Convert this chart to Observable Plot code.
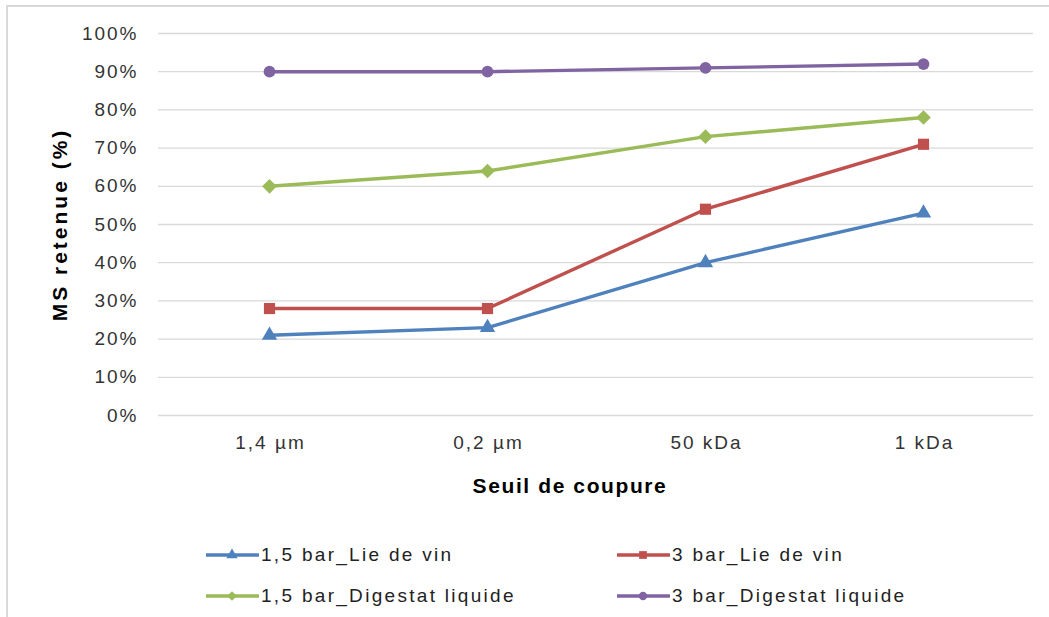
<!DOCTYPE html>
<html>
<head>
<meta charset="utf-8">
<script src="https://cdn.jsdelivr.net/npm/d3@7"></script>
<script src="https://cdn.jsdelivr.net/npm/@observablehq/plot@0.6"></script>
<style>
  html, body { margin: 0; padding: 0; background: #fff; }
  body { width: 1049px; height: 617px; position: relative; overflow: hidden; font-family: "Liberation Sans", Arial, sans-serif; }
  #frame { position: absolute; left: 6px; top: 5px; width: 1060px; height: 640px; border: 2px solid #d9d9d9; box-sizing: border-box; }
  #chart { position: absolute; left: 0; top: 0; }
  #xlabel { position: absolute; left: 0; width: 1140px; top: 474px; text-align: center; font-weight: bold; font-size: 21px; letter-spacing: 1.6px; color: #000; }
  .leg { position: absolute; display: flex; align-items: center; font-size: 19px; letter-spacing: 2.3px; color: #222; white-space: nowrap; }
  .leg svg { display: block; margin-right: 2px; }
  #chart svg text { letter-spacing: 2px; }
</style>
</head>
<body>
<div id="frame"></div>
<div id="chart"></div>
<div id="xlabel">Seuil de coupure</div>
<div id="legend"></div>
<script>
// ---- data ----
const categories = ["1,4 µm", "0,2 µm", "50 kDa", "1 kDa"];
const seriesNames = ["1,5 bar_Lie de vin", "3 bar_Lie de vin", "1,5 bar_Digestat liquide", "3 bar_Digestat liquide"];
const lieVin15 = [21, 23, 40, 53];
const lieVin3 = [28, 28, 54, 71];
const digestat15 = [60, 64, 73, 78];
const digestat3 = [90, 90, 91, 92];
const yTicks = [0, 10, 20, 30, 40, 50, 60, 70, 80, 90, 100];
const colors = ["#4F81BD", "#C0504D", "#9BBB59", "#8064A2"];
const symbols = ["triangle", "square", "diamond2", "circle"];
const markerR = [5.7, 6.3, 6.6, 5.9];

const allValues = [lieVin15, lieVin3, digestat15, digestat3];
const data = [];
allValues.forEach((vals, si) => {
  vals.forEach((v, i) => data.push({series: seriesNames[si], cat: categories[i], value: v, r: markerR[si]}));
});

const chart = Plot.plot({
  width: 1049,
  height: 520,
  marginLeft: 158,
  marginRight: 16,
  marginTop: 33,
  marginBottom: 105,
  style: { fontFamily: "Liberation Sans, Arial, sans-serif", fontSize: "19px", color: "#333", background: "transparent" },
  x: { type: "point", domain: categories, padding: 0.5 },
  y: { domain: [0, 100] },
  r: { type: "identity" },
  color: { domain: seriesNames, range: colors },
  symbol: { domain: seriesNames, range: symbols },
  marks: [
    Plot.ruleY(yTicks, { stroke: "#d9d9d9", strokeWidth: 1.3 }),
    Plot.axisY({ ticks: yTicks, tickSize: 0, tickPadding: 20, tickFormat: d => d + "%", fontSize: 19, fill: "#333",
      label: "MS retenue (%)", labelAnchor: "center", labelArrow: "none", labelOffset: 106 }),
    Plot.axisX({ tickSize: 0, tickPadding: 20, fontSize: 19, fill: "#333", label: null }),
    Plot.line(data, { x: "cat", y: "value", z: "series", stroke: "series", strokeWidth: 3.4, strokeLinejoin: "round" }),
    Plot.dot(data, { x: "cat", y: "value", symbol: "series", fill: "series", stroke: "none", r: "r" })
  ]
});
document.getElementById("chart").appendChild(chart);
// bold, larger y-axis title
d3.select(chart).selectAll("g[aria-label='y-axis label'] text")
  .style("font-weight", "bold").style("font-size", "21px").style("letter-spacing", "3px").attr("fill", "#000");
// x tick labels: compensate trailing letter-spacing for centering
d3.select(chart).selectAll("g[aria-label='x-axis tick label'] text").attr("dx", 1);

// ---- legend ----
const legPos = [[206, 555], [617, 555], [206, 596], [617, 596]];
const legend = document.getElementById("legend");
const symMap = { triangle: d3.symbolTriangle, square: d3.symbolSquare, diamond2: d3.symbolDiamond2, circle: d3.symbolCircle };
const legSize = [55, 60, 60, 55];
seriesNames.forEach((name, i) => {
  const item = document.createElement("div");
  item.className = "leg";
  item.style.left = legPos[i][0] + "px";
  item.style.top = (legPos[i][1] - 11) + "px";
  const svg = d3.create("svg").attr("width", 53).attr("height", 22);
  svg.append("line").attr("x1", 0).attr("x2", 52).attr("y1", 11).attr("y2", 11)
    .attr("stroke", colors[i]).attr("stroke-width", 3.4).attr("stroke-linecap", "round");
  svg.append("path").attr("transform", "translate(26,11)")
    .attr("d", d3.symbol(symMap[symbols[i]], legSize[i])()).attr("fill", colors[i]);
  item.appendChild(svg.node());
  const span = document.createElement("span");
  span.textContent = name;
  item.appendChild(span);
  legend.appendChild(item);
});
</script>
</body>
</html>
